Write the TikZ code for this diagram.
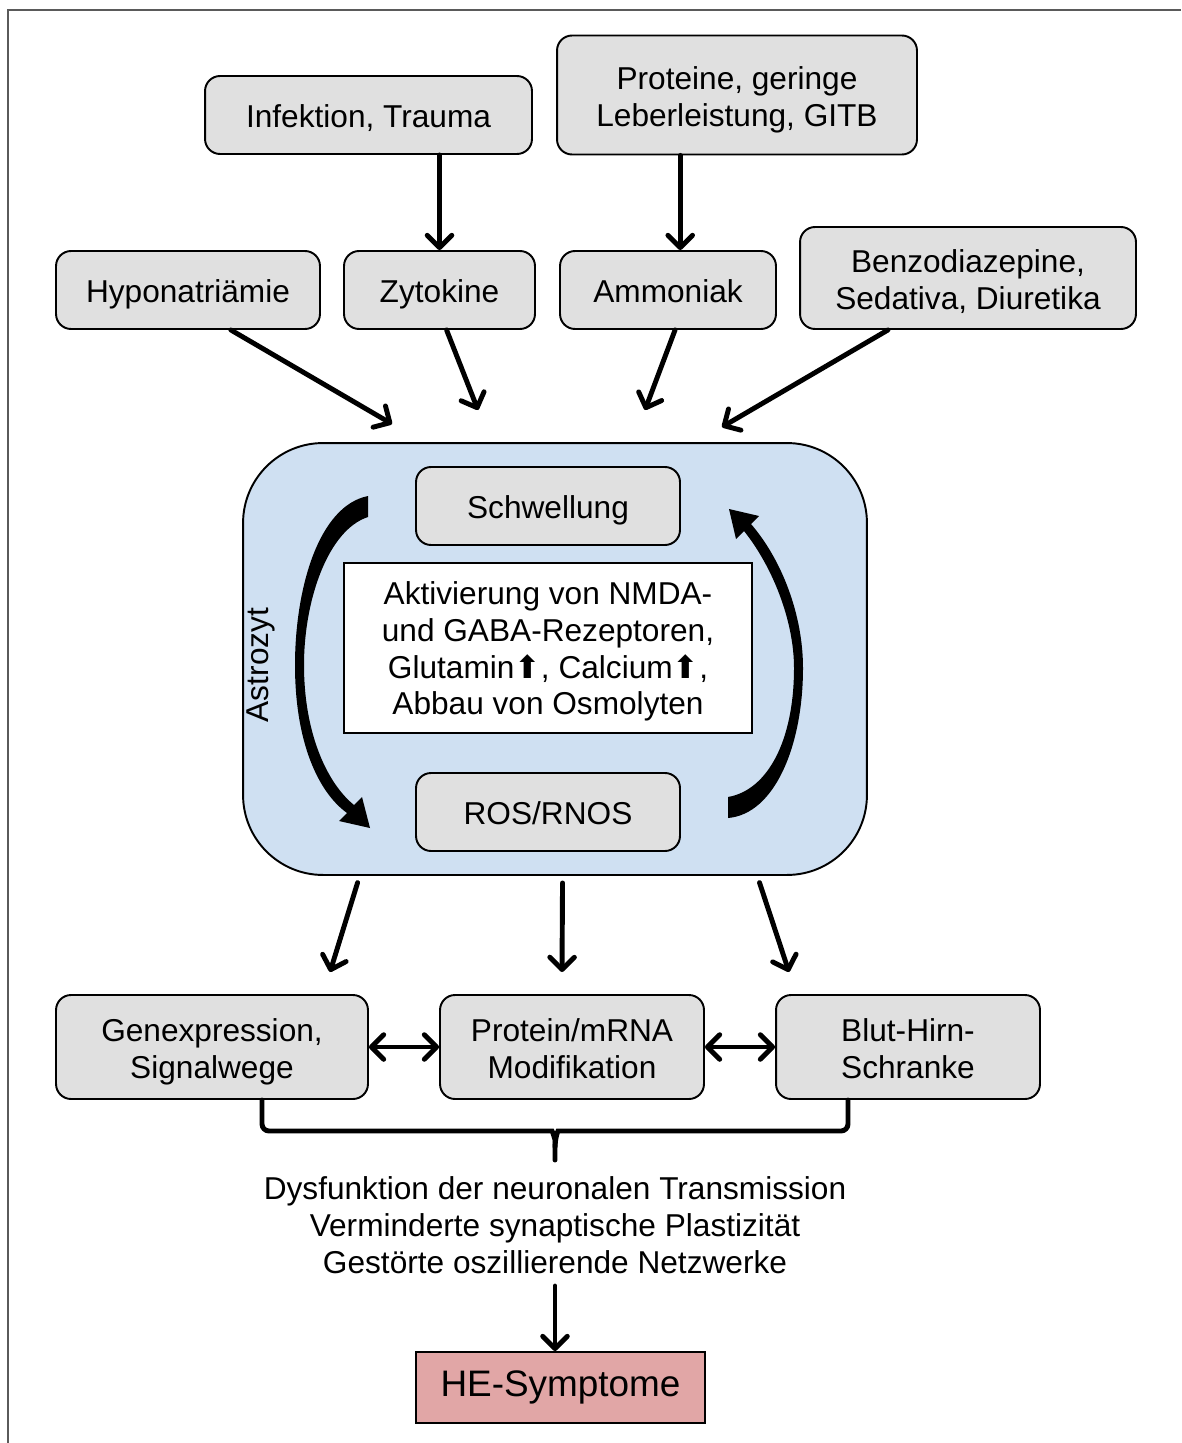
\documentclass[tikz,border=0pt]{standalone}
\usepackage{fontspec}
\setmainfont{Liberation Sans}
\newfontfamily\symbfont{DejaVu Sans}
\usetikzlibrary{arrows.meta}
\definecolor{boxgrey}{RGB}{224,224,224}
\definecolor{astroblue}{RGB}{207,224,242}
\definecolor{hepink}{RGB}{225,166,166}
\definecolor{framegrey}{RGB}{90,90,90}
\newcommand{\hoch}{{\symbfont ⬆}}

\begin{document}
\begin{tikzpicture}[x=0.02cm, y=-0.02cm,
  box/.style={draw, line width=1.1pt, fill=boxgrey, rounded corners=0.3cm, align=center, inner sep=0pt,
    font=\fontsize{18}{20.9}\selectfont,
    execute at begin node={\rule{0pt}{18pt}}, execute at end node={\rule[-4pt]{0pt}{4pt}}},
  lines2/.style={execute at begin node={\rule{0pt}{39.5pt}}},
  lines4/.style={execute at begin node={\rule{0pt}{80pt}}},
  arr/.style={line width=2.8pt, line cap=round, -{Straight Barb[length=7pt,width=14pt,round]}},
  darr/.style={line width=2.8pt, line cap=round, {Straight Barb[length=7pt,width=14pt,round]}-{Straight Barb[length=7pt,width=14pt,round]}},
  brace/.style={line width=2.8pt, line cap=round, rounded corners=4pt}]
 	 % Fix the page to the size of the reference
 	 \useasboundingbox (0,0) rectangle (1181,1443);
 	 \draw[framegrey, line width=1pt] (8,1443) -- (8,10) -- (1181,10);

 	 % Causes on top
 	 \node[box, minimum width=6.54cm, minimum height=1.56cm] (infekt) at (368.5,115) {Infektion, Trauma};
 	 \node[box, lines2, minimum width=7.2cm, minimum height=2.38cm] (prot) at (737,95) {Proteine, geringe\\Leberleistung, GITB};
 	 \node[box, minimum width=5.28cm, minimum height=1.56cm] (hypo) at (188,290) {Hyponatriämie};
 	 \node[box, minimum width=3.82cm, minimum height=1.56cm] (zyto) at (439.5,290) {Zytokine};
 	 \node[box, minimum width=4.32cm, minimum height=1.56cm] (ammon) at (668,290) {Ammoniak};
 	 \node[box, lines2, minimum width=6.72cm, minimum height=2.04cm] (benzo) at (968,278) {Benzodiazepine,\\Sedativa, Diuretika};

 	 \draw[arr] (infekt.south -| zyto) -- (zyto);
 	 \draw[arr] (prot.south -| ammon.73) -- (ammon.73);

 	 % Free ends of the arrows into the astrocyte
 	 \coordinate (in1) at (392,424);
 	 \coordinate (in2) at (478,410);
 	 \coordinate (in3) at (645,410);
 	 \coordinate (in4) at (722,427);
 	 \foreach \src/\ang/\tgt in {hypo/-43/in1, zyto/-80/in2, ammon/-80/in3, benzo/-147/in4} {
 	   \draw[arr] (\src.\ang) -- (\tgt);
 	 }

 	 % Astrocyte with its cycle
 	 \node[draw, line width=1.1pt, fill=astroblue, rounded corners=1.6cm, minimum width=12.48cm, minimum height=8.64cm] (astro) at (555,659) {};
 	 \node[rotate=90, font=\fontsize{18}{20.9}\selectfont] (astrolabel) at (261,665) {Astrozyt};
 	 \node[box, minimum width=5.28cm, minimum height=1.56cm] (schw) at (548,506) {Schwellung};
 	 \node[box, lines4, fill=white, rounded corners=0pt, minimum width=8.16cm, minimum height=3.4cm] (akt) at (548,648)
 	   {Aktivierung von NMDA-\\und GABA-Rezeptoren,\\Glutamin\hoch, Calcium\hoch,\\Abbau von Osmolyten};
 	 \node[box, minimum width=5.28cm, minimum height=1.56cm] (ros) at (548,812) {ROS/RNOS};

 	 % Thick curved arrows
 	 \fill (368,496) .. controls (318,506) and (295,590) .. (295,665) .. controls (295,742) and (318,792) .. (347,813)
 	   -- (339,821) -- (370,828) -- (362,797) -- (354,805) .. controls (328,784) and (304,735) .. (304,665)
 	   .. controls (304,600) and (328,530) .. (368,517) -- cycle;
 	 \fill (729,509) -- (759,516) -- (751,524) .. controls (782,560) and (803,615) .. (803,668)
 	   .. controls (803,745) and (775,814) .. (728,818) -- (728,797) .. controls (768,790) and (794,740) .. (794,668)
 	   .. controls (794,620) and (772,566) .. (744,531) -- (736,539) -- cycle;

 	 % Effects below
 	 \coordinate (out1) at (330,972);
 	 \coordinate (out2) at (562,972);
 	 \coordinate (out3) at (789,972);
 	 \foreach \ang/\tgt in {-132/out1, -88/out2, -47/out3} {
 	   \draw[arr, shorten <=4pt] (astro.\ang) -- (\tgt);
 	 }

 	 \node[box, lines2, minimum width=6.24cm, minimum height=2.08cm] (gen) at (212,1047) {Genexpression,\\Signalwege};
 	 \node[box, lines2, minimum width=5.28cm, minimum height=2.08cm] (protmod) at (572,1047) {Protein/mRNA\\Modifikation};
 	 \node[box, lines2, minimum width=5.28cm, minimum height=2.08cm] (bhs) at (908,1047) {Blut-Hirn-\\Schranke};
 	 \draw[darr] (gen) -- (protmod);
 	 \draw[darr] (protmod) -- (bhs);

 	 % Brace under the three boxes
 	 \draw[brace] (262,1100) -- (262,1131) -- (545,1131) to[out=0,in=90] (555,1147) -- (555,1160);
 	 \draw[brace] (848,1100) -- (848,1131) -- (565,1131) to[out=180,in=90] (555,1147);

 	 \node[align=center, inner sep=1pt, font=\fontsize{18}{20.9}\selectfont] (dys) at (555,1225)
 	   {Dysfunktion der neuronalen Transmission\\Verminderte synaptische Plastizität\\Gestörte oszillierende Netzwerke};
 	 \node[draw, line width=1.1pt, fill=hepink, minimum width=5.78cm, minimum height=1.42cm,
 	   font=\fontsize{21}{24}\selectfont] (he) at (560.5,1387.5) {HE-Symptome};
 	 \draw[arr, shorten <=6pt] (dys.south) -- (dys.south |- he.north);
\end{tikzpicture}
\end{document}
